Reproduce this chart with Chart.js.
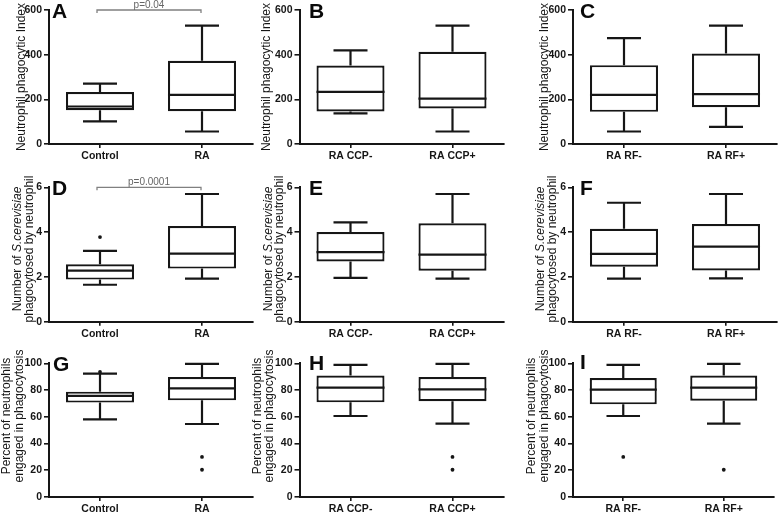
<!DOCTYPE html>
<html>
<head>
<meta charset="utf-8">
<script src="https://cdn.jsdelivr.net/npm/chart.js@4"></script>
<style>
  html, body { margin: 0; padding: 0; background: #fff; }
  #wrap { position: relative; width: 778px; height: 512px; overflow: hidden; }
  #wrap canvas { position: absolute; }
</style>
</head>
<body>
<div id="wrap"></div>
<script>
// categories
const catsRA = ['Control', 'RA'];
const catsCCP = ['RA CCP-', 'RA CCP+'];
const catsRF = ['RA RF-', 'RA RF+'];

// box values for each group: [min, q1, median, q3, max]
const indexRA = [[101, 151, 168, 233, 270], [56, 147, 220, 373, 530]];
const indexCCP = [[137, 146, 233, 351, 419], [56, 159, 203, 413, 530]];
const indexRF = [[56, 144, 220, 353, 474], [77, 165, 223, 405, 530]];

const yeastRA = [[1.65, 1.88, 2.28, 2.56, 3.16], [1.92, 2.37, 3.04, 4.27, 5.70]];
const yeastCCP = [[1.96, 2.69, 3.11, 4.0, 4.43], [1.92, 2.28, 2.99, 4.39, 5.70]];
const yeastRF = [[1.92, 2.45, 3.03, 4.15, 5.31], [1.93, 2.29, 3.35, 4.36, 5.70]];

const percentRA = [[58, 70.6, 75.6, 78.8, 92.3], [54.6, 72.3, 81.3, 89.8, 99.5]];
const percentCCP = [[60.6, 70.8, 81.8, 90.8, 98.8], [54.9, 71.6, 80.5, 89.8, 99.5]];
const percentRF = [[60.6, 69.3, 80.3, 89, 98.8], [54.9, 72, 81.8, 90.8, 99.5]];

// outliers for each group
const yeastRAOut = [[3.78], []];
const percentRAOut = [[93.5], [30, 20.4]];
const percentCCPOut = [[], [30, 20.4]];
const percentRFOut = [[30], [20.4]];

// y axis ticks
const ticksIndex = [0, 200, 400, 600];
const ticksYeast = [0, 2, 4, 6];
const ticksPercent = [0, 20, 40, 60, 80, 100];

// axis titles, [text, italic] pieces per line
const titleIndex = [[['Neutrophil phagocytic Index', false]]];
const titleYeast = [[['Number of ', false], ['S.cerevisiae', true]], [['phagocytosed by neutrophil', false]]];
const titlePercent = [[['Percent of neutrophils', false]], [['engaged in phagocytosis', false]]];

const pValueA = 'p=0.04';
const pValueD = 'p=0.0001';

const panels = [
  { letter: 'A', row: 0, col: 0, cats: catsRA, box: indexRA, out: null, ticks: ticksIndex, title: titleIndex, p: pValueA },
  { letter: 'B', row: 0, col: 1, cats: catsCCP, box: indexCCP, out: null, ticks: ticksIndex, title: titleIndex },
  { letter: 'C', row: 0, col: 2, cats: catsRF, box: indexRF, out: null, ticks: ticksIndex, title: titleIndex },
  { letter: 'D', row: 1, col: 0, cats: catsRA, box: yeastRA, out: yeastRAOut, ticks: ticksYeast, title: titleYeast, p: pValueD },
  { letter: 'E', row: 1, col: 1, cats: catsCCP, box: yeastCCP, out: null, ticks: ticksYeast, title: titleYeast },
  { letter: 'F', row: 1, col: 2, cats: catsRF, box: yeastRF, out: null, ticks: ticksYeast, title: titleYeast },
  { letter: 'G', row: 2, col: 0, cats: catsRA, box: percentRA, out: percentRAOut, ticks: ticksPercent, title: titlePercent },
  { letter: 'H', row: 2, col: 1, cats: catsCCP, box: percentCCP, out: percentCCPOut, ticks: ticksPercent, title: titlePercent },
  { letter: 'I', row: 2, col: 2, cats: catsRF, box: percentRF, out: percentRFOut, ticks: ticksPercent, title: titlePercent }
];

// layout of the grid
const colLeft = [0, 250, 508], colW = [260, 268, 270];
const rowTop = [0, 170, 340], rowH = [170, 170, 172];
const areaLeft = [49, 49.5, 65], areaW = 204;
const areaTop = [10, 17.3, 23.3], areaBottom = [144, 151.7, 157];
const titleX = [
  [[21.7], [266.7], [544.7]],
  [[18, 30], [268.3, 280], [541, 553]],
  [[6.7, 20], [258, 270], [531.3, 544.7]]
];
const titleY = [77, 249, 416];
const letterPos = [
  [[52, 18], [309, 18], [580, 18]],
  [[52, 195], [309, 195], [580, 195]],
  [[53, 371], [309, 370], [580, 369]]
];

const ink = '#161616';
const family = '"Liberation Sans", Arial, sans-serif';
Chart.defaults.font.family = family;

function drawTitleLine(ctx, pieces, cx, cy) {
  ctx.save();
  ctx.translate(cx, cy);
  ctx.rotate(-Math.PI / 2);
  ctx.textBaseline = 'middle';
  ctx.textAlign = 'left';
  ctx.fillStyle = ink;
  let total = 0;
  pieces.forEach(pc => {
    ctx.font = (pc[1] ? 'italic ' : '') + '12px ' + family;
    total += ctx.measureText(pc[0]).width;
  });
  let x = -total / 2;
  pieces.forEach(pc => {
    ctx.font = (pc[1] ? 'italic ' : '') + '12px ' + family;
    ctx.fillText(pc[0], x, 0);
    x += ctx.measureText(pc[0]).width;
  });
  ctx.restore();
}

function decor(p) {
  return {
    id: 'decor' + p.letter,
    afterDatasetsDraw(chart) {
      const ctx = chart.ctx, y = chart.scales.y;
      const meta = chart.getDatasetMeta(0);
      ctx.save();
      ctx.strokeStyle = ink;
      ctx.lineWidth = 2.2;
      meta.data.forEach((bar, i) => {
        const [mn, q1, md, q3, mx] = p.box[i];
        const cx = bar.x, half = bar.width / 2, cap = bar.width / 4;
        ctx.beginPath();
        ctx.moveTo(cx - half, y.getPixelForValue(md));
        ctx.lineTo(cx + half, y.getPixelForValue(md));
        ctx.moveTo(cx, y.getPixelForValue(q3));
        ctx.lineTo(cx, y.getPixelForValue(mx));
        ctx.moveTo(cx - cap, y.getPixelForValue(mx));
        ctx.lineTo(cx + cap, y.getPixelForValue(mx));
        ctx.moveTo(cx, y.getPixelForValue(q1));
        ctx.lineTo(cx, y.getPixelForValue(mn));
        ctx.moveTo(cx - cap, y.getPixelForValue(mn));
        ctx.lineTo(cx + cap, y.getPixelForValue(mn));
        ctx.stroke();
      });
      ctx.restore();
    },
    afterDraw(chart) {
      const ctx = chart.ctx, y = chart.scales.y;
      const left = colLeft[p.col], top = rowTop[p.row];
      // axis title
      p.title.forEach((line, k) => {
        drawTitleLine(ctx, line, titleX[p.row][p.col][k] - left, titleY[p.row] - top);
      });
      // panel letter
      const lp = letterPos[p.row][p.col];
      ctx.save();
      ctx.fillStyle = '#0a0a0a';
      ctx.font = 'bold 21px ' + family;
      ctx.textBaseline = 'alphabetic';
      ctx.fillText(p.letter, lp[0] - left, lp[1] - top);
      ctx.restore();
      // significance bracket
      if (p.p) {
        const meta = chart.getDatasetMeta(0);
        const x0 = meta.data[0].x - 3, x1 = meta.data[1].x - 1;
        const yb = y.getPixelForValue(p.ticks[p.ticks.length - 1]);
        ctx.save();
        ctx.strokeStyle = '#808080';
        ctx.lineWidth = 1.3;
        ctx.beginPath();
        ctx.moveTo(x0, yb + 3); ctx.lineTo(x0, yb); ctx.lineTo(x1, yb); ctx.lineTo(x1, yb + 3);
        ctx.stroke();
        ctx.fillStyle = '#666';
        ctx.font = '10px ' + family;
        ctx.textAlign = 'center';
        ctx.textBaseline = 'alphabetic';
        ctx.fillText(p.p, (x0 + x1) / 2, yb - 2);
        ctx.restore();
      }
    }
  };
}

const wrap = document.getElementById('wrap');

panels.forEach(p => {
  const cv = document.createElement('canvas');
  cv.width = colW[p.col];
  cv.height = rowH[p.row];
  cv.style.left = colLeft[p.col] + 'px';
  cv.style.top = rowTop[p.row] + 'px';
  wrap.appendChild(cv);

  const outPts = [];
  if (p.out) {
    p.out.forEach((vals, i) => vals.forEach(v => outPts.push({ x: p.cats[i], y: v })));
  }

  new Chart(cv, {
    type: 'bar',
    data: {
      labels: p.cats,
      datasets: [{
        data: p.box.map(b => [b[1], b[3]]),
        backgroundColor: '#fff',
        borderColor: ink,
        borderWidth: 2.2,
        borderSkipped: false,
        barPercentage: 0.667,
        categoryPercentage: 1
      }, {
        type: 'line',
        data: outPts,
        showLine: false,
        pointRadius: 1.9,
        pointBackgroundColor: ink,
        pointBorderWidth: 0
      }]
    },
    options: {
      responsive: false,
      animation: false,
      devicePixelRatio: 1,
      layout: {
        padding: {
          left: 0,
          top: areaTop[p.row],
          right: colW[p.col] - areaLeft[p.col] - areaW,
          bottom: 0
        }
      },
      plugins: {
        legend: { display: false },
        tooltip: { enabled: false }
      },
      scales: {
        x: {
          afterFit: s => { s.height = rowH[p.row] - areaBottom[p.row]; },
          grid: { offset: false, drawOnChartArea: false, drawTicks: true, tickLength: 4, color: ink, lineWidth: 1.6 },
          border: { display: true, color: ink, width: 2 },
          ticks: { color: ink, padding: 2, maxRotation: 0, font: { size: 10.5, weight: 'bold' } }
        },
        y: {
          min: p.ticks[0],
          max: p.ticks[p.ticks.length - 1],
          afterFit: s => { s.width = areaLeft[p.col]; },
          grid: { drawOnChartArea: false, drawTicks: true, tickLength: 5, color: ink, lineWidth: 1.6 },
          border: { display: true, color: ink, width: 2 },
          ticks: { stepSize: p.ticks[1] - p.ticks[0], color: ink, padding: 2, font: { size: 10.5, weight: 'bold' } }
        }
      }
    },
    plugins: [decor(p)]
  });
});
</script>
</body>
</html>
